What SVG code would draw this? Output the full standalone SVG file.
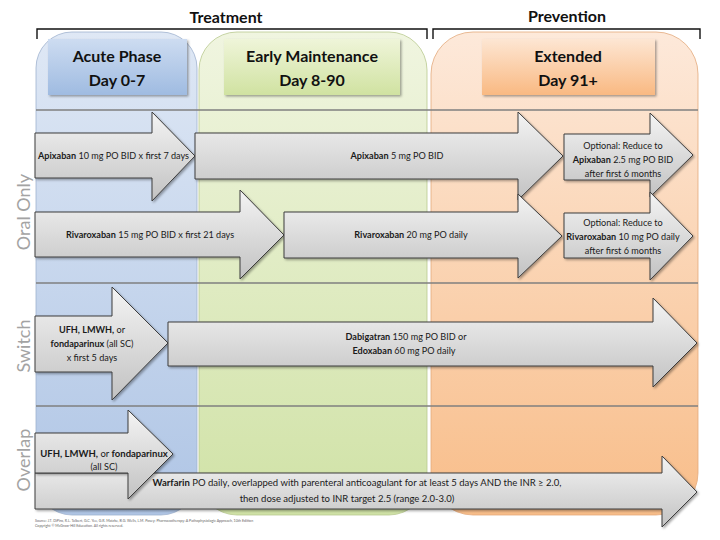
<svg xmlns="http://www.w3.org/2000/svg" width="720" height="540" viewBox="0 0 720 540">
<style>
text{font-family:Lato,"Open Sans","DejaVu Sans",sans-serif;fill:#1a1a1a}
.hdr{font-size:16px;font-weight:bold;text-anchor:middle;fill:#111}
.col{font-size:16px;font-weight:bold;text-anchor:middle;fill:#111}
.lbl{font-size:18px;fill:#a3a3a3;text-anchor:middle}
.t{font-size:9.1px}
.c{text-anchor:middle}
.b{font-weight:bold}
.arr{fill:url(#ga);stroke:#3c3c3c;stroke-width:1;filter:url(#sh)}
.brk{fill:none;stroke:#111;stroke-width:1.4}
.div{stroke:#7f7f7f;stroke-width:1.6}
.foot{font-size:3.6px;fill:#666}
</style>
<defs>
<linearGradient id="ga" x1="0" y1="0" x2="0" y2="1">
<stop offset="0" stop-color="#f4f4f4"/><stop offset="1" stop-color="#c2c2c2"/>
</linearGradient>
<linearGradient id="gcb" x1="0" y1="0" x2="0" y2="1">
<stop offset="0" stop-color="#dfe8f5"/><stop offset="1" stop-color="#afc5e5"/>
</linearGradient>
<linearGradient id="gcg" x1="0" y1="0" x2="0" y2="1">
<stop offset="0" stop-color="#f0f5e0"/><stop offset="1" stop-color="#d0e2a6"/>
</linearGradient>
<linearGradient id="gco" x1="0" y1="0" x2="0" y2="1">
<stop offset="0" stop-color="#fde9da"/><stop offset="1" stop-color="#f8bd89"/>
</linearGradient>
<linearGradient id="ghb" x1="0" y1="0" x2="0" y2="1">
<stop offset="0" stop-color="#cddcf1"/><stop offset="1" stop-color="#9fbbe1"/>
</linearGradient>
<linearGradient id="ghg" x1="0" y1="0" x2="0" y2="1">
<stop offset="0" stop-color="#eff5d9"/><stop offset="1" stop-color="#d0e2a1"/>
</linearGradient>
<linearGradient id="gho" x1="0" y1="0" x2="0" y2="1">
<stop offset="0" stop-color="#fde6d3"/><stop offset="1" stop-color="#f9b982"/>
</linearGradient>
<filter id="sh" x="-10%" y="-10%" width="130%" height="130%">
<feDropShadow dx="1.5" dy="1.5" stdDeviation="1.2" flood-color="#000" flood-opacity="0.35"/>
</filter>
</defs>

<g id="headings">
<text class="hdr" x="226" y="23">Treatment</text>
<path class="brk" d="M37,39 V29 H427 V39"/>
<text class="hdr" x="567" y="22">Prevention</text>
<path class="brk" d="M433,39 V29 H700 V39"/>
</g>

<g id="columns">
<g id="col-acute">
<rect x="36" y="32" width="161" height="483" rx="36" ry="36" fill="url(#gcb)" stroke="#9fb3cf" stroke-width="0.8"/>
<rect x="48" y="39" width="139" height="56" fill="url(#ghb)" filter="url(#sh)"/>
<text class="col" x="117" y="62">Acute Phase</text>
<text class="col" x="117" y="86">Day 0-7</text>
</g>
<g id="col-early">
<rect x="199" y="32" width="228" height="483" rx="38" ry="38" fill="url(#gcg)" stroke="#b9c98f" stroke-width="0.8"/>
<rect x="224" y="39" width="176" height="56" fill="url(#ghg)" filter="url(#sh)"/>
<text class="col" x="312" y="62">Early Maintenance</text>
<text class="col" x="312" y="86">Day 8-90</text>
</g>
<g id="col-extended">
<rect x="431" y="32" width="267" height="483" rx="42" ry="42" fill="url(#gco)" stroke="#e3aa7c" stroke-width="0.8"/>
<rect x="482" y="39" width="173" height="56" fill="url(#gho)" filter="url(#sh)"/>
<text class="col" x="568" y="62">Extended</text>
<text class="col" x="568" y="86">Day 91+</text>
</g>
</g>

<g id="dividers">
<line class="div" x1="36" y1="110" x2="698" y2="110"/>
<line class="div" x1="36" y1="283" x2="698" y2="283"/>
<line class="div" x1="36" y1="406" x2="698" y2="406"/>
</g>

<g id="row-labels">
<text class="lbl" transform="translate(30,212) rotate(-90)">Oral Only</text>
<text class="lbl" transform="translate(30,346) rotate(-90)">Switch</text>
<text class="lbl" transform="translate(30,460) rotate(-90)">Overlap</text>
</g>

<g id="connectors">
<g id="a-apix10">
<path class="arr" d="M35,133 H152 V112 L195,156 L152,201 V178 H35 Z"/>
<text class="t" x="38" y="159"><tspan class="b">Apixaban</tspan> 10 mg PO BID x first 7 days</text>
</g>
<g id="a-apix5">
<path class="arr" d="M195,133 H518 V112 L563,156 L518,200 V179 H195 Z"/>
<text class="t c" x="397" y="159"><tspan class="b">Apixaban</tspan> 5 mg PO BID</text>
</g>
<g id="a-apix25">
<path class="arr" d="M564,134 H650 V113 L693,155 L650,197 V180 H564 Z"/>
<text class="t c" x="623" y="149">Optional: Reduce to</text>
<text class="t c" x="623" y="163"><tspan class="b">Apixaban</tspan> 2.5 mg PO BID</text>
<text class="t c" x="623" y="177">after first 6 months</text>
</g>
<g id="a-riva15">
<path class="arr" d="M35,212 H240 V190 L284,235 L240,279 V257 H35 Z"/>
<text class="t c" x="150" y="238"><tspan class="b">Rivaroxaban</tspan> 15 mg PO BID x first 21 days</text>
</g>
<g id="a-riva20">
<path class="arr" d="M284,212 H518 V194 L562,236 L518,278 V258 H284 Z"/>
<text class="t c" x="411" y="238"><tspan class="b">Rivaroxaban</tspan> 20 mg PO daily</text>
</g>
<g id="a-riva10">
<path class="arr" d="M564,213 H650 V192 L693,236 L650,280 V258 H564 Z"/>
<text class="t c" x="623" y="226">Optional: Reduce to</text>
<text class="t c" x="623" y="240"><tspan class="b">Rivaroxaban</tspan> 10 mg PO daily</text>
<text class="t c" x="623" y="254">after first 6 months</text>
</g>
<g id="a-ufh-switch">
<path class="arr" d="M35,316 H112 V287 L168,343 L112,400 V372 H35 Z"/>
<text class="t c" x="92" y="333"><tspan class="b">UFH, LMWH,</tspan> or</text>
<text class="t c" x="92" y="347"><tspan class="b">fondaparinux</tspan> (all SC)</text>
<text class="t c" x="92" y="361">x first 5 days</text>
</g>
<g id="a-dabi-edox">
<path class="arr" d="M168,322 H653 V298 L697,343 L653,387 V366 H168 Z"/>
<text class="t c" x="406" y="340"><tspan class="b">Dabigatran</tspan> 150 mg PO BID or</text>
<text class="t c" x="404" y="354"><tspan class="b">Edoxaban</tspan> 60 mg PO daily</text>
</g>
<g id="a-warfarin">
<path class="arr" d="M35,473 H662 V456 L697,492 L662,527 V509 H35 Z"/>
<text class="t c" x="357" y="486" style="font-size:9.5px"><tspan class="b">Warfarin</tspan> PO daily, overlapped with parenteral anticoagulant for at least 5 days AND the INR ≥ 2.0,</text>
<text class="t c" x="347" y="502" style="font-size:9.5px">then dose adjusted to INR target 2.5 (range 2.0-3.0)</text>
</g>
<g id="a-ufh-overlap">
<path class="arr" d="M35,433 H128 V410 L173,454 L128,499 V473 H35 Z"/>
<text class="t c" x="104" y="457" style="font-size:9.5px"><tspan class="b">UFH, LMWH,</tspan> or <tspan class="b">fondaparinux</tspan></text>
<text class="t c" x="104" y="470">(all SC)</text>
</g>
</g>

<g id="footnote">
<text class="foot" x="35" y="522">Source: J.T. DiPiro, R.L. Talbert, G.C. Yee, G.R. Matzke, B.G. Wells, L.M. Posey: Pharmacotherapy: A Pathophysiologic Approach, 10th Edition</text>
<text class="foot" x="35" y="527">Copyright © McGraw-Hill Education. All rights reserved.</text>
</g>
</svg>
